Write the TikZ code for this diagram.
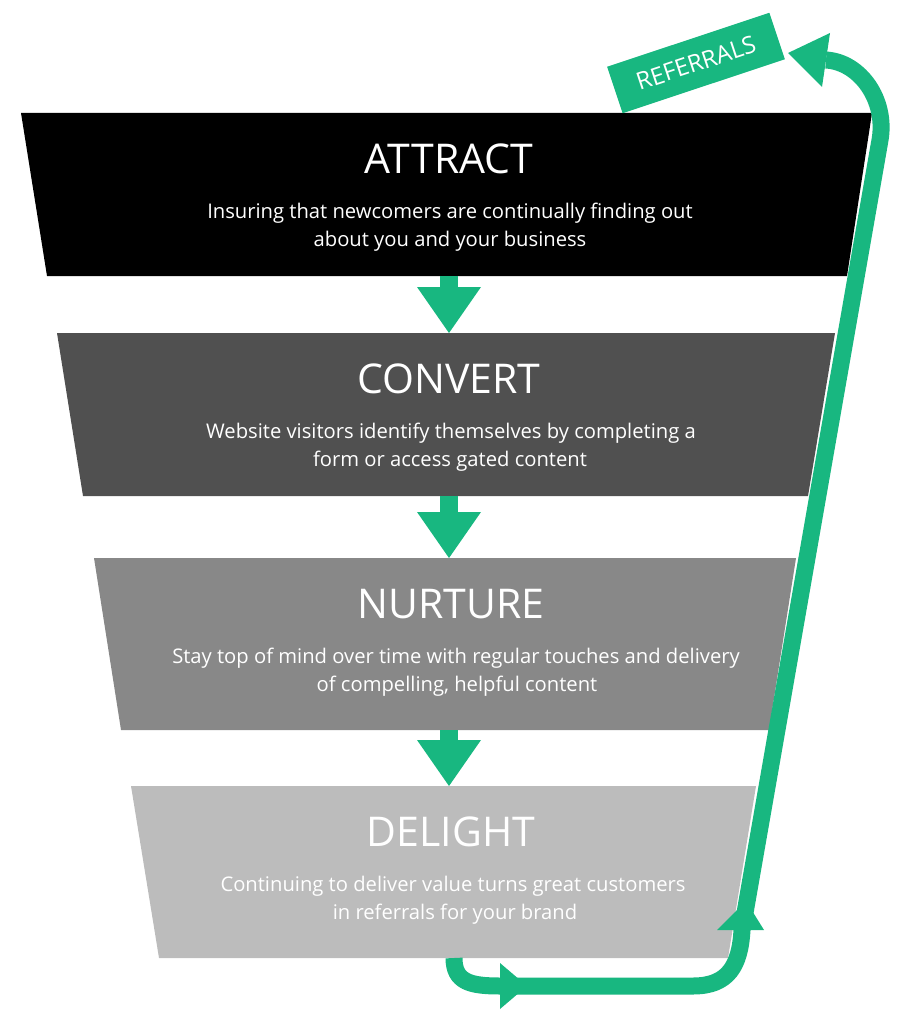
\documentclass[tikz,border=0pt]{standalone}
\usepackage{fontspec}
\setmainfont{Open Sans}
\usetikzlibrary{calc}
\definecolor{grn}{RGB}{24,183,128}
\definecolor{cAttract}{RGB}{0,0,0}
\definecolor{cConvert}{RGB}{80,80,80}
\definecolor{cNurture}{RGB}{136,136,136}
\definecolor{cDelight}{RGB}{188,188,188}
\begin{document}
\begin{tikzpicture}[x=1pt,y=-1pt,
  title/.style={text=white,inner sep=0pt,anchor=base,font=\fontsize{41}{46}\selectfont},
  body/.style={text=white,inner sep=0pt,anchor=base,font=\fontsize{20.2}{28}\selectfont},
  loop/.style={draw=grn,line width=17pt,line join=round},
  shaft/.style={fill=grn},
  tip/.style={fill=grn}]
\useasboundingbox (0,0) rectangle (912,1030);

% funnel stages
\fill[cAttract] (21,113) -- (872,113) -- (847,276) -- (47,276) -- cycle;
\fill[cConvert] (57,333) -- (835,333) -- (808,496) -- (83,496) -- cycle;
\fill[cNurture] (94,558) -- (796,558) -- (769,730) -- (121,730) -- cycle;
\fill[cDelight] (131,786) -- (756,786) -- (728,958) -- (159,958) -- cycle;

% texts
\node[title] (tA) at (449,173) {ATTRACT};
\node[body] (bA1) at (450,218) {Insuring that newcomers are continually finding out};
\node[body] (bA2) at (450,246) {about you and your business};

\node[title] (tC) at (449,393) {CONVERT};
\node[body] (bC1) at (451,438) {Website visitors identify themselves by completing a};
\node[body] (bC2) at (450,466) {form or access gated content};

\node[title] (tN) at (451,618) {NURTURE};
\node[body] (bN1) at (456,663) {Stay top of mind over time with regular touches and delivery};
\node[body] (bN2) at (457,691) {of compelling, helpful content};

\node[title] (tD) at (451,846) {DELIGHT};
\node[body] (bD1) at (453,891) {Continuing to deliver value turns great customers};
\node[body] (bD2) at (455,919) {in referrals for your brand};

% down arrows between stages
\foreach \s/\t/\n in {276/333/a1, 496/558/a2, 730/786/a3}{
  \coordinate (\n s) at (449,\s);
  \coordinate (\n t) at (449,\t);
  \fill[shaft] ($(\n s)+(-9,0)$) rectangle ($(\n t)+(9,-44)$);
  \fill[tip] ($(\n t)+(-32,-46)$) -- ($(\n t)+(32,-46)$) -- (\n t) -- cycle;
}

% referral loop
\coordinate (ls) at (454,958);
\coordinate (lh1) at (500,986);
\coordinate (lh2) at (693,986);
\coordinate (lv) at (742,930);
\coordinate (lt) at (880,140);
\coordinate (le) at (826,60);
\draw[loop] (ls) .. controls (454,982) and (470,986) .. (lh1) -- (lh2)
  .. controls (728,986) and (740,966) .. (lv) -- (lt)
  .. controls (887,100) and (860,62) .. (le);
\fill[tip] (500,963) -- (527,986) -- (500,1009) -- cycle;
\fill[tip] (717,930) -- (746,901) -- (764,930) -- cycle;
\fill[tip] (830,33) -- (788,53) -- (822,87) -- cycle;

% referrals label
\node[rotate=18.4,fill=grn,minimum width=171pt,minimum height=49pt,inner sep=0pt,
  text=white,font=\fontsize{24}{28}\selectfont] (ref) at (696,63) {REFERRALS};
\end{tikzpicture}
\end{document}
